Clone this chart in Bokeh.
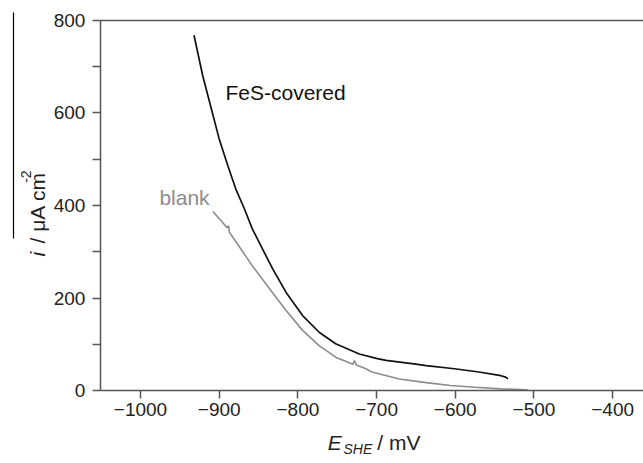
import numpy as np
from bokeh.plotting import figure
from bokeh.models import LinearAxis, FixedTicker, Range1d, Label
from bokeh.embed import file_html
from bokeh.resources import INLINE

# ---- data ----
fes_E = [-932, -921, -910, -900, -889, -879, -868, -858, -845, -832, -815,
         -794, -773, -752, -722, -699, -688, -650, -637, -601, -570, -542,
         -536, -533]
fes_i = [768, 681, 609, 544, 486, 436, 393, 350, 306, 263, 212,
         162, 126, 101, 79, 69, 65, 57, 54, 47, 40, 32,
         29, 25]

blank_E = [-908, -897, -890, -888, -887, -858, -836, -815, -794, -773, -752,
           -730, -728, -726, -715, -706, -671, -637, -606, -575, -542, -508]
blank_i = [387, 366, 352, 356, 342, 270, 220, 173, 130, 97, 72,
           57, 65, 55, 48, 40, 25, 17, 11, 7, 3.6, 1.5]

x_ticks = [-1000, -900, -800, -700, -600, -500, -400]
x_tick_labels = ["\u22121000", "\u2212900", "\u2212800", "\u2212700",
                 "\u2212600", "\u2212500", "\u2212400"]
y_ticks = [0, 200, 400, 600, 800]
y_minor = [100, 300, 500, 700]
y_tick_labels = ["0", "200", "400", "600", "800"]

X_START, X_END = -1051, -360.8   # visible axis extent
Y_START, Y_END = 0, 800

FONT = "Liberation Sans"
AX = "#555555"
TXT = "#222222"

# frame covers the whole canvas; axes are pinned at fixed data locations
p = figure(width=643, height=463, output_backend="svg", toolbar_location=None,
           x_range=Range1d(-1177.9, -360.8), y_range=Range1d(-157.8, 843.2),
           x_axis_location=None, y_axis_location=None, min_border=0,
           outline_line_color=None)
p.grid.visible = False

p.line(fes_E, fes_i, line_color="#111111", line_width=1.7)
p.line(blank_E, blank_i, line_color="#8c8c8c", line_width=1.6)


def style(ax):
    ax.axis_line_color = AX
    ax.axis_line_width = 1.5
    ax.major_tick_line_color = AX
    ax.major_tick_line_width = 1.5
    ax.minor_tick_line_color = AX
    ax.minor_tick_line_width = 1.5
    ax.major_tick_in = 0
    ax.major_tick_out = 8
    ax.minor_tick_in = 0
    ax.minor_tick_out = 8
    ax.major_label_text_font = FONT
    ax.major_label_text_font_size = "19px"
    ax.major_label_text_color = TXT


xa = LinearAxis(fixed_location=Y_START, bounds=(X_START, X_END),
                ticker=FixedTicker(ticks=x_ticks, minor_ticks=[]),
                major_label_overrides={t: l for t, l in zip(x_ticks, x_tick_labels)})
style(xa)
xa.major_label_standoff = 4
p.add_layout(xa, "below")

ya = LinearAxis(fixed_location=X_START, bounds=(Y_START, Y_END),
                ticker=FixedTicker(ticks=y_ticks, minor_ticks=y_minor),
                major_label_overrides={t: l for t, l in zip(y_ticks, y_tick_labels)})
style(ya)
ya.major_label_standoff = 7
p.add_layout(ya, "left")

# top frame line
top = LinearAxis(fixed_location=Y_END, bounds=(X_START, X_END),
                 ticker=FixedTicker(ticks=[], minor_ticks=[]),
                 major_tick_out=0, minor_tick_out=0, major_label_standoff=0,
                 axis_line_color=AX, axis_line_width=1.5)
p.add_layout(top, "above")

# thin rule to the left of the y label (as in the source figure)
over = LinearAxis(fixed_location=-1161.4, bounds=(328, 817),
                  ticker=FixedTicker(ticks=[], minor_ticks=[]),
                  major_tick_out=0, minor_tick_out=0, major_label_standoff=0,
                  axis_line_color="black", axis_line_width=1.2)
p.add_layout(over, "left")

# curve labels
p.add_layout(Label(x=-892, y=645, text="FeS-covered", text_font=FONT,
                   text_font_size="21px", text_color="#111111",
                   text_baseline="alphabetic"))
p.add_layout(Label(x=-976, y=418, text="blank", text_font=FONT,
                   text_font_size="21px", text_color="#8c8c8c",
                   text_baseline="alphabetic"))

# x axis label  E_SHE / mV
p.add_layout(Label(x=-762, y=-113, text="E", text_font=FONT,
                   text_font_style="italic", text_font_size="21px",
                   text_color=TXT, text_baseline="alphabetic"))
p.add_layout(Label(x=-742, y=-126, text="SHE", text_font=FONT,
                   text_font_style="italic", text_font_size="14px",
                   text_color=TXT, text_baseline="alphabetic"))
p.add_layout(Label(x=-699, y=-113, text="/ mV", text_font=FONT,
                   text_font_size="21px", text_color=TXT,
                   text_baseline="alphabetic"))

# y axis label  i / μA cm^-2
ang = np.pi / 2
p.add_layout(Label(x=-1131, y=290, text="i", angle=ang, text_font=FONT,
                   text_font_style="italic", text_font_size="21px",
                   text_color=TXT, text_baseline="alphabetic"))
p.add_layout(Label(x=-1131, y=318, text="/ \u03bcA cm", angle=ang,
                   text_font=FONT, text_font_size="21px", text_color=TXT,
                   text_baseline="alphabetic"))
p.add_layout(Label(x=-1146, y=449, text="-2", angle=ang, text_font=FONT,
                   text_font_size="14px", text_color=TXT,
                   text_baseline="alphabetic"))

open("out.html", "w").write(file_html(p, INLINE))
